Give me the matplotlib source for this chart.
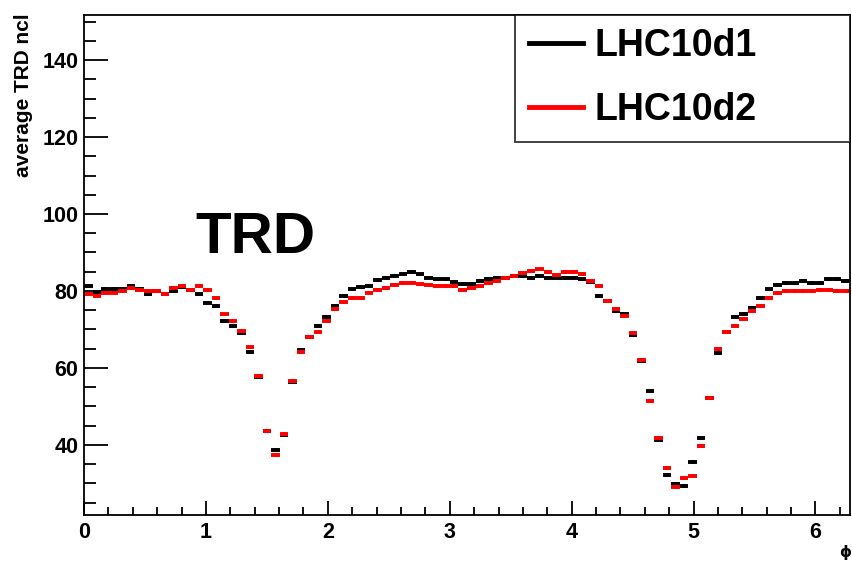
import numpy as np
import matplotlib
matplotlib.use("Agg")
import matplotlib.pyplot as plt
from matplotlib.ticker import MultipleLocator
from matplotlib.lines import Line2D

# average TRD ncl per phi bin (90 bins from 0 to 2pi)
lhc10d1 = [81.2, 79.7, 80.6, 80.6, 80.6, 81.3, 80.6, 79.2, 79.9, 79.2,
           79.9, 81.1, 80.3, 79.1, 77.0, 76.0, 72.3, 70.8, 69.0, 64.2,
           57.6, 43.5, 38.8, 42.5, 56.3, 64.6, 68.0, 70.8, 73.2, 76.2,
           78.7, 80.4, 81.0, 81.4, 82.8, 83.4, 84.0, 84.5, 84.9, 84.3,
           83.5, 83.0, 83.0, 82.4, 81.9, 81.9, 82.5, 83.1, 83.5, 83.5,
           83.9, 83.8, 83.5, 84.0, 83.5, 83.5, 83.5, 83.5, 83.0, 82.4,
           78.8, 77.4, 74.7, 74.1, 68.6, 61.8, 53.9, 41.3, 32.2, 29.8,
           29.3, 35.6, 41.9, 52.1, 63.9, 69.4, 73.2, 74.1, 75.6, 78.2,
           80.4, 81.5, 82.0, 82.0, 82.6, 82.0, 82.0, 83.1, 83.1, 82.6]
lhc10d2 = [79.2, 78.8, 79.4, 79.6, 80.0, 80.8, 80.3, 79.9, 80.0, 79.2,
           80.9, 81.3, 80.3, 81.3, 80.2, 78.2, 73.9, 72.3, 69.6, 65.5,
           58.0, 43.5, 37.3, 42.8, 56.7, 64.2, 68.0, 69.4, 72.3, 75.2,
           77.1, 78.2, 78.2, 79.6, 80.3, 80.7, 81.6, 82.0, 82.2, 81.7,
           81.5, 81.3, 81.2, 81.2, 80.2, 80.8, 81.4, 82.0, 82.7, 83.3,
           84.0, 84.6, 85.1, 85.6, 84.9, 84.2, 84.9, 84.9, 84.4, 82.5,
           81.3, 77.4, 75.3, 73.4, 69.2, 62.0, 51.4, 41.7, 34.0, 29.0,
           31.4, 31.9, 39.7, 52.1, 65.0, 69.4, 71.0, 72.7, 74.7, 76.2,
           78.2, 79.4, 80.0, 80.0, 80.0, 80.0, 80.3, 80.3, 80.0, 80.0]
labels = ["LHC10d1", "LHC10d2"]
colors = ["black", "red"]

plt.rcParams["font.family"] = ["Liberation Sans", "DejaVu Sans"]
plt.rcParams["font.weight"] = "bold"

edges = np.linspace(0, 2 * np.pi, len(lhc10d1) + 1)
centers = 0.5 * (edges[:-1] + edges[1:])
halfw = 0.5 * (edges[1] - edges[0])

# frame in pixels: left 84, right 850, top 15, bottom 515
W, H = 852, 563
fig = plt.figure(figsize=(W / 100, H / 100), dpi=100)
ax = fig.add_axes([84 / W, 1 - 515 / H, (850 - 84) / W, (515 - 15) / H])

for vals, col in zip([lhc10d1, lhc10d2], colors):
    ax.errorbar(centers, vals, xerr=halfw, yerr=0.5, fmt="none",
                ecolor=col, elinewidth=2.8, capsize=0)

ax.set_xlim(0, 2 * np.pi)
ax.set_ylim(21.8, 151.7)
ax.xaxis.set_major_locator(MultipleLocator(1))
ax.xaxis.set_minor_locator(MultipleLocator(0.2))
ax.yaxis.set_major_locator(MultipleLocator(20))
ax.yaxis.set_minor_locator(MultipleLocator(5))
ax.tick_params(which="both", direction="in", top=False, right=False,
               labelsize=15.5, width=1.3)
ax.tick_params(axis="y", which="major", length=17, pad=4)
ax.tick_params(axis="y", which="minor", length=8.5)
ax.tick_params(axis="x", which="major", length=10, pad=5)
ax.tick_params(axis="x", which="minor", length=6)
for s in ax.spines.values():
    s.set_linewidth(1.3)

fig.text(24 / W, 1 - 13 / H, "average TRD ncl", rotation=90,
         ha="center", va="top", fontsize=15, fontweight="bold")
fig.text(845 / W, 1 - 553 / H, "ϕ", ha="center", va="center",
         fontsize=11, family=["DejaVu Sans"])
fig.text(195 / W, 1 - 253 / H, "TRD", fontsize=42, fontweight="bold",
         ha="left", va="baseline")

handles = [Line2D([], [], color=c, lw=3.5) for c in colors]
leg = ax.legend(handles, labels, loc="upper left",
                bbox_to_anchor=((515 - 84) / 766, 1 - (139 - 15) / 500,
                                (850 - 515) / 766, (139 - 15) / 500),
                mode="expand", borderaxespad=0, frameon=True, fancybox=False,
                edgecolor="black", handlelength=1.45, handletextpad=0.32,
                borderpad=0.36, labelspacing=0.74,
                prop={"weight": "bold", "size": 27})
leg.get_frame().set_linewidth(1.3)

fig.savefig("out.png", dpi=100)
